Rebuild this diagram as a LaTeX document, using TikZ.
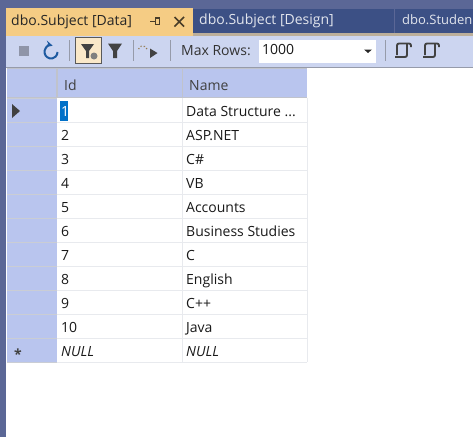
\documentclass[tikz,border=0pt]{standalone}
\usepackage{fontspec}
\setmainfont{Open Sans}
\definecolor{frameblue}{RGB}{91,103,150}
\definecolor{tabblue}{RGB}{60,80,133}
\definecolor{tabgold}{RGB}{245,204,132}
\definecolor{barblue}{RGB}{204,213,240}
\definecolor{headblue}{RGB}{185,197,238}
\definecolor{gridgrey}{RGB}{232,234,238}
\definecolor{edgegrey}{RGB}{150,155,170}
\definecolor{iconblue}{RGB}{30,90,160}
\definecolor{icongrey}{RGB}{66,66,66}
\definecolor{selblue}{RGB}{0,112,200}

\begin{document}
\begin{tikzpicture}[x=1pt,y=-1pt]

%
% Styles
%
\tikzstyle{tabtext} = [anchor=west,inner sep=0pt,text height=10pt,text depth=3pt,font=\fontsize{14}{16}\selectfont]
\tikzstyle{celltext} = [tabtext,text=black!90]
\tikzstyle{nulltext} = [celltext,font=\fontsize{14}{16}\selectfont\itshape]
\tikzstyle{headtext} = [celltext,text=black!75]
\tikzstyle{rowhead} = [rectangle,fill=headblue,inner sep=0pt,minimum width=50pt,minimum height=22.5pt]
\tikzstyle{headcell} = [rectangle,fill=headblue,inner sep=0pt,minimum height=28pt]
\tikzstyle{toolsep} = [draw=edgegrey,line width=0.8pt]
\tikzstyle{gridline} = [draw=gridgrey,line width=1pt]

\useasboundingbox (0,0) rectangle (473,437);

% window
\fill[frameblue] (0,0) rectangle (473,437);
\fill[white] (6,68) rectangle (473,437);
\fill[tabblue] (193,9) rectangle (473,33);
\fill[frameblue] (394,9) rectangle (395,33);
\fill[edgegrey!60!tabgold] (6,33) rectangle (473,36);
\fill[barblue] (6,36) rectangle (473,67);
\fill[edgegrey] (6,67) rectangle (473,68);
\fill[tabgold] (6,8) rectangle (193,36);

% tabs
\node[tabtext,text=black!85] (tabdata) at (11,21.5) {dbo.Subject [Data]};
\node[tabtext,text=white!85!tabblue] (tabdesign) at (199,21) {dbo.Subject [Design]};
\node[tabtext,text=white!85!tabblue,font=\fontsize{13}{16}\selectfont] (tabstudent) at (402,21) {dbo.Studen};
\draw[black!70!tabgold,line width=1pt] (150,21.5) -- (155,21.5);
\draw[black!70!tabgold,line width=1.2pt] (155.5,18) rectangle (159.5,24.5);
\draw[black!70!tabgold,line width=1.5pt] (174.5,17) -- (184,26.5) (184,17) -- (174.5,26.5);

% toolbar
\fill[black!30!barblue] (19,46) rectangle (29,56);
\draw[iconblue,line width=2pt,<-,>=stealth] (52.7,45.7) arc[start angle=75,end angle=360,radius=6.5pt];
\draw[toolsep] (69.5,40) -- (69.5,61);
\node[rectangle,draw=black!65,fill=tabgold!45,inner sep=0pt,minimum width=26pt,minimum height=26pt] (btnfilter) at (88.5,50.5) {};
\fill[icongrey] (81,44) -- (94,44) -- (89,51) -- (89,58) -- (86,58) -- (86,51) -- cycle;
\fill[black!50] (94,56) circle (3.5pt);
\fill[icongrey] (108,43.5) -- (122,43.5) -- (117,51) -- (117,58) -- (113,58) -- (113,51) -- cycle;
\draw[toolsep] (133.5,40) -- (133.5,61);
\fill[icongrey] (150,48.5) -- (157.5,53) -- (150,58) -- cycle;
\draw[tabgold!60!black,dotted,line width=1.2pt] (147,49) arc[start angle=200,end angle=340,radius=-4.5pt];
\draw[toolsep] (170.5,40) -- (170.5,61);
\node[tabtext,text=black!80] (maxrows) at (181,51.5) {Max Rows:};
\node[rectangle,fill=white,inner sep=0pt,minimum width=117pt,minimum height=23pt] (combo) at (317.5,51) {};
\node[tabtext,text=black!90] (comboval) at (262,51) {1000};
\fill[black!85] (364,49.5) -- (372,49.5) -- (368,53) -- cycle;
\draw[toolsep] (385.5,40) -- (385.5,61);
\foreach \ix in {396,424}
  \draw[icongrey,line width=1.9pt,rounded corners=2pt] (\ix+1,55) -- (\ix+1,43.5) -- (\ix+15,43.5) -- (\ix+15,47)
    (\ix+11,44) -- (\ix+11,57) -- (\ix-1,57);

% header
\fill[edgegrey!60] (7,68) rectangle (307,98);
\node[headcell,minimum width=49pt,anchor=north west] (corner) at (7,69) {};
\node[headcell,minimum width=124pt,anchor=north west] (headid) at (58,69) {};
\node[headcell,minimum width=124pt,anchor=north west] (headname) at (183,69) {};
\node[headtext] (idlabel) at (64,86.5) {Id};
\node[headtext] (namelabel) at (189,86.5) {Name};

% grid
\foreach \iy in {122,146,170,194,218,242,266,290,314,338,362}
  \draw[gridline] (57,\iy.5) -- (307,\iy.5);
\draw[gridline] (182.5,98) -- (182.5,362);
\draw[gridline] (307.5,98) -- (307.5,362);

% row headers
\fill[edgegrey!50] (7,98) rectangle (57,363);
\node[rowhead,anchor=north west] (r1) at (7,99) {};
\node[rowhead,anchor=north west] (r2) at (7,123) {};
\node[rowhead,anchor=north west] (r3) at (7,147) {};
\node[rowhead,anchor=north west] (r4) at (7,171) {};
\node[rowhead,anchor=north west] (r5) at (7,195) {};
\node[rowhead,anchor=north west] (r6) at (7,219) {};
\node[rowhead,anchor=north west] (r7) at (7,243) {};
\node[rowhead,anchor=north west] (r8) at (7,267) {};
\node[rowhead,anchor=north west] (r9) at (7,291) {};
\node[rowhead,anchor=north west] (r10) at (7,315) {};
\node[rowhead,anchor=north west] (r11) at (7,339) {};
\fill[black!75] (12,104) -- (20,111) -- (12,118) -- cycle;
\node[inner sep=0pt,text=black!75,font=\fontsize{14}{16}\selectfont\bfseries] (rstar) at (18,354.5) {*};

% cells
\fill[selblue] (60,101) rectangle (68,121);
\node[celltext,text=white] (id1) at (61,112.5) {1};
\node[celltext] (id2) at (61,136.5) {2};
\node[celltext] (id3) at (61,160.5) {3};
\node[celltext] (id4) at (61,184.5) {4};
\node[celltext] (id5) at (61,208.5) {5};
\node[celltext] (id6) at (61,232.5) {6};
\node[celltext] (id7) at (61,256.5) {7};
\node[celltext] (id8) at (61,280.5) {8};
\node[celltext] (id9) at (61,304.5) {9};
\node[celltext] (id10) at (61,328.5) {10};
\node[nulltext] (idnull) at (61,352.5) {NULL};

\node[celltext] (name1) at (186,112.5) {Data Structure ...};
\node[celltext] (name2) at (186,136.5) {ASP.NET};
\node[celltext] (name3) at (186,160.5) {C\#};
\node[celltext] (name4) at (186,184.5) {VB};
\node[celltext] (name5) at (186,208.5) {Accounts};
\node[celltext] (name6) at (186,232.5) {Business Studies};
\node[celltext] (name7) at (186,256.5) {C};
\node[celltext] (name8) at (186,280.5) {English};
\node[celltext] (name9) at (186,304.5) {C++};
\node[celltext] (name10) at (186,328.5) {Java};
\node[nulltext] (namenull) at (186,352.5) {NULL};

\end{tikzpicture}
\end{document}
